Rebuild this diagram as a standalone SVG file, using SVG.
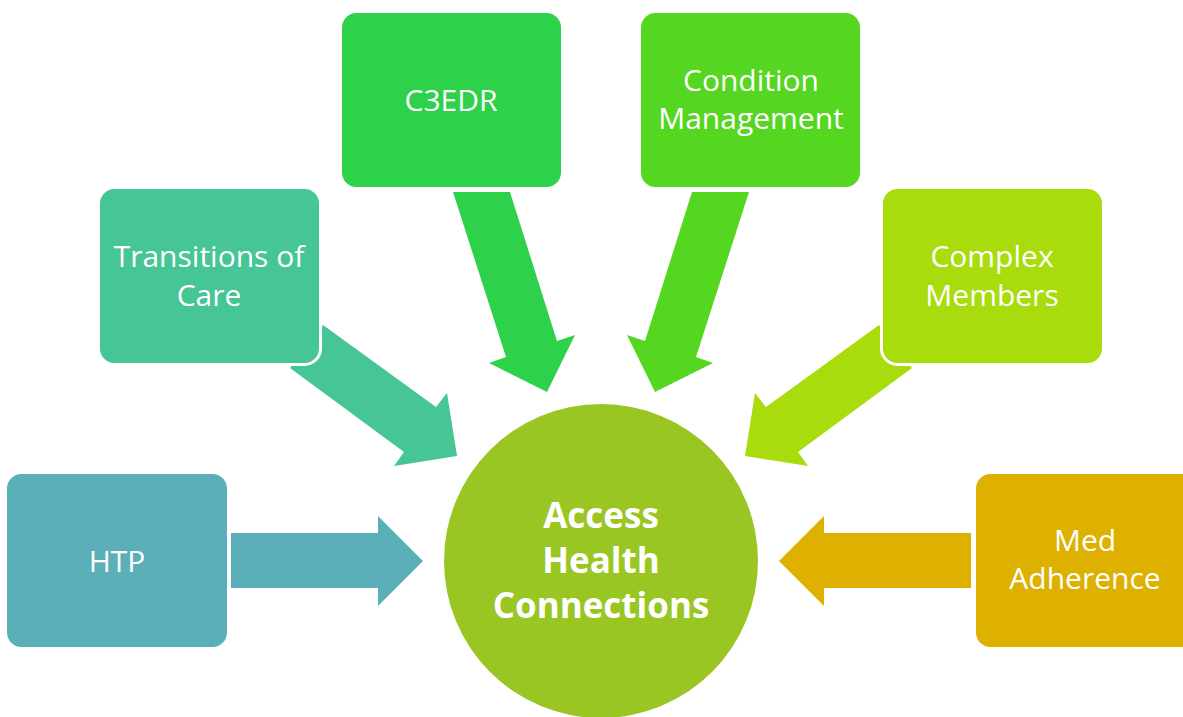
<svg xmlns="http://www.w3.org/2000/svg" width="1183" height="717" viewBox="0 0 1183 717">
<style>
.box{stroke:#ffffff;stroke-width:3}
.lbl{font-family:"Open Sans","Liberation Sans",sans-serif;font-size:30px;fill:#ffffff;text-anchor:middle}
.hub{font-family:"Open Sans","Liberation Sans",sans-serif;font-size:35px;font-weight:bold;fill:#ffffff;text-anchor:middle}
</style>
<rect x="0" y="0" width="1183" height="717" fill="#ffffff"/>
<g id="connectors">
  <polygon fill="#5BAFB8" points="231,533 378,533 378,516 423,561 378,606 378,588 231,588"/>
  <polygon fill="#DEB000" points="971,533 824,533 824,516 779,561 824,606 824,588 971,588"/>
  <polygon fill="#46C595" points="323,325 436,407 447,393 457,456 394,466 404,452 290,368"/>
  <polygon fill="#A8DC0C" points="879,325 766,407 755,393 745,456 808,466 798,452 912,368"/>
  <polygon fill="#2ED14A" points="453,192 510,192 557,341 575,335 547,392 489,363 506,357"/>
  <polygon fill="#55D620" points="749,192 692,192 645,341 627,335 655,392 713,363 696,357"/>
</g>
<g id="node-htp">
  <rect class="box" x="5.5" y="472.5" width="223" height="176" rx="16" fill="#5BAFB8"/>
  <text class="lbl" x="117" y="572">HTP</text>
</g>
<g id="node-transitions">
  <rect class="box" x="98.5" y="187.5" width="222" height="177" rx="16" fill="#46C595"/>
  <text class="lbl" x="209" y="267">Transitions of</text>
  <text class="lbl" x="209" y="306">Care</text>
</g>
<g id="node-c3edr">
  <rect class="box" x="340.5" y="11.5" width="222" height="177" rx="16" fill="#2ED14A"/>
  <text class="lbl" x="451" y="111">C3EDR</text>
</g>
<g id="node-condition">
  <rect class="box" x="639.5" y="11.5" width="222" height="177" rx="16" fill="#55D620"/>
  <text class="lbl" x="751" y="91">Condition</text>
  <text class="lbl" x="751" y="129">Management</text>
</g>
<g id="node-complex">
  <rect class="box" x="881.5" y="187.5" width="222" height="177" rx="16" fill="#A8DC0C"/>
  <text class="lbl" x="992" y="267">Complex</text>
  <text class="lbl" x="992" y="306">Members</text>
</g>
<g id="node-med">
  <rect class="box" x="974.5" y="472.5" width="223" height="176" rx="16" fill="#DEB000"/>
  <text class="lbl" x="1085" y="551">Med</text>
  <text class="lbl" x="1085" y="589">Adherence</text>
</g>
<g id="node-hub">
  <circle cx="601" cy="561" r="157" fill="#99C623"/>
  <text class="hub" x="601" y="528">Access</text>
  <text class="hub" x="601" y="573">Health</text>
  <text class="hub" x="601" y="618">Connections</text>
</g>
</svg>
